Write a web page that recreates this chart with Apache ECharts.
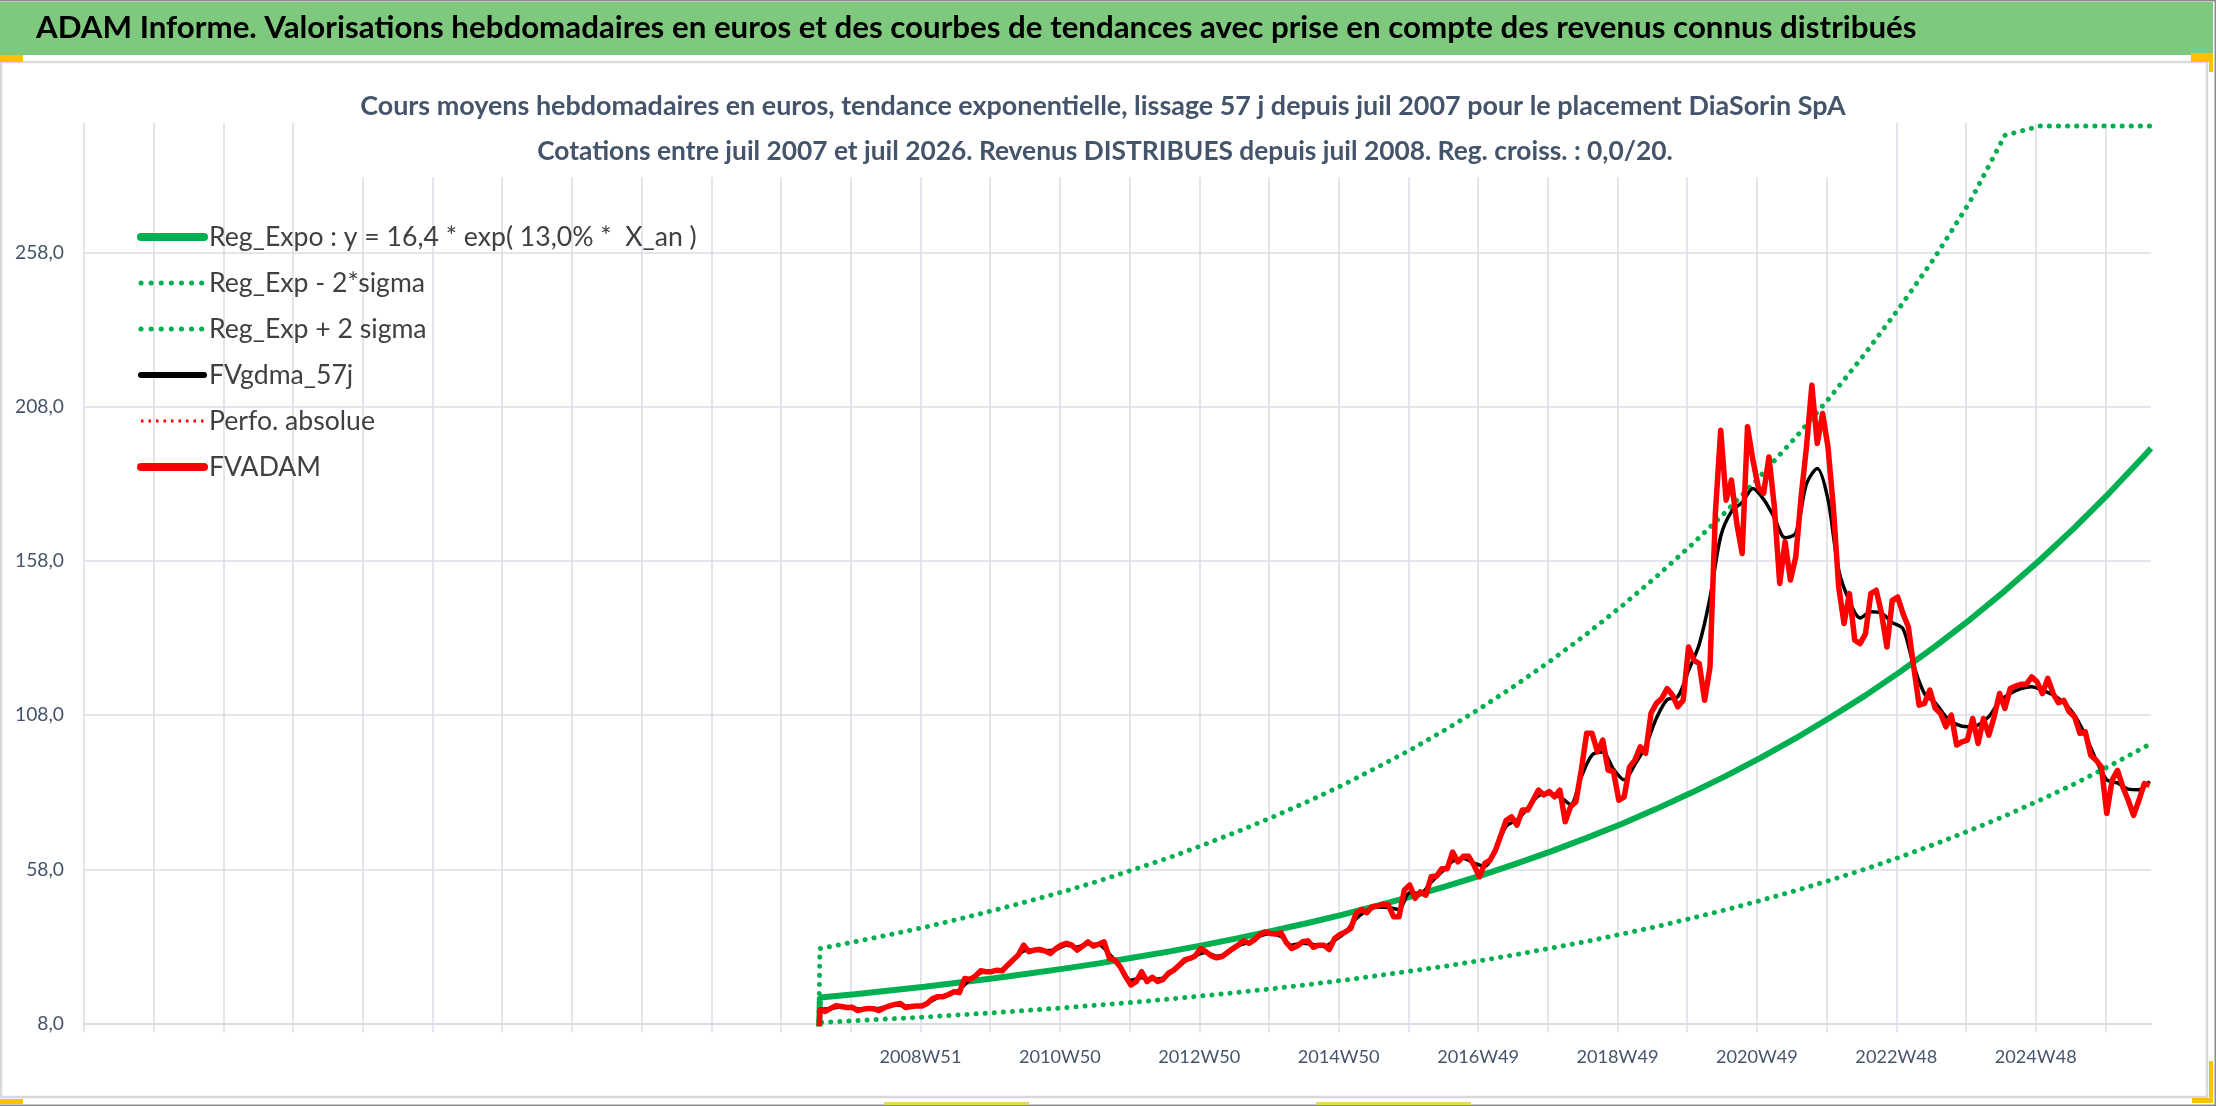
<!DOCTYPE html>
<html>
<head>
<meta charset="utf-8">
<title>ADAM Informe - DiaSorin SpA</title>
<script src="https://cdn.jsdelivr.net/npm/echarts@6.0.0/dist/echarts.min.js"></script>
<style>
html, body { margin: 0; padding: 0; background: #fff; }
#chart { width: 2216px; height: 1106px; }
</style>
</head>
<body>
<div id="chart"></div>
<script>
// weekly categories (ISO weeks). The sheet has empty weeks before the first quote.
let firstQuoteMonday = Date.UTC(2007, 6, 9);   // 2007W28
let blankWeeksBefore = 549;
let weekCount = 1543;
let tickLabels = ['2008W51', '2010W50', '2012W50', '2014W50', '2016W49', '2018W49', '2020W49', '2022W48', '2024W48'];

// FVADAM, one value every 4 weeks from 2007W28
let adamStep = 4;
let fvadam = [
    12.4, 11.9, 12.9, 13.8, 13.5, 13.2, 13.3, 12.2, 12.6, 12.9,
    12.8, 12.2, 13.1, 13.7, 14.2, 14.5, 13.2, 13.5, 13.7, 13.7,
    14.5, 16.1, 16.7, 16.7, 17.4, 18.3, 18.0, 22.6, 22.3, 23.4,
    25.1, 24.8, 24.8, 25.3, 25.1, 26.9, 28.6, 30.2, 33.4, 31.3,
    31.8, 32.0, 31.5, 30.7, 32.3, 33.4, 34.0, 33.4, 31.8, 33.1,
    34.5, 33.1, 33.7, 34.5, 29.1, 28.6, 26.4, 23.2, 20.5, 21.6,
    24.8, 21.6, 23.0, 21.6, 22.3, 24.3, 25.3, 26.9, 28.6, 29.1,
    29.9, 32.3, 31.3, 29.9, 29.3, 29.7, 31.0, 32.3, 33.4, 34.8,
    34.0, 35.1, 36.7, 37.7, 37.2, 37.0, 37.4, 34.2, 32.3, 33.1,
    34.5, 34.8, 32.7, 33.4, 33.4, 32.0, 35.6, 36.9, 37.7, 38.8,
    43.7, 45.0, 43.9, 45.9, 46.1, 46.7, 46.4, 42.6, 42.6, 51.3,
    52.9, 48.6, 50.7, 49.6, 55.6, 55.8, 58.2, 58.2, 63.6, 60.4,
    62.2, 62.2, 59.3, 55.6, 59.9, 61.0, 64.2, 69.1, 73.9, 75.0,
    72.3, 77.2, 77.2, 80.4, 83.7, 82.1, 83.2, 81.5, 83.7, 73.4,
    78.3, 79.9, 90.2, 102.1, 102.1, 96.1, 99.9, 90.2, 89.7, 80.4,
    81.5, 91.2, 93.4, 97.7, 95.6, 108.6, 111.8, 113.4, 116.6, 114.5,
    110.7, 112.8, 130.1, 125.8, 124.7, 112.8, 123.6, 173.3, 200.4, 177.7,
    184.2, 170.1, 160.4, 201.5, 190.7, 182.0, 179.9, 191.7, 175.6, 150.7,
    164.2, 151.8, 159.3, 178.8, 195.0, 215.0, 196.1, 205.8, 195.0, 175.6,
    149.6, 137.7, 147.4, 132.3, 131.2, 134.4, 147.4, 148.5, 140.9, 130.1,
    145.2, 146.3, 140.9, 136.6, 123.6, 111.2, 111.8, 116.1, 110.2, 108.5,
    104.2, 108.0, 98.3, 99.3, 99.9, 106.9, 98.8, 106.9, 101.5, 107.5,
    115.0, 110.2, 116.6, 117.4, 118.0, 118.0, 120.4, 118.8, 115.0, 119.9,
    115.0, 112.0, 112.8, 109.1, 107.5, 102.1, 102.6, 95.0, 93.4, 91.2,
    76.1, 86.9, 90.1, 84.7, 80.4, 75.5, 80.4, 85.8, 85.3
];

// FVgdma_57j, one value every 8 weeks
let gdmaStep = 8;
let fvgdma = [
    12.6, 12.8, 13.4, 13.0, 12.6, 12.7, 13.2, 14.0, 13.7, 13.6,
    14.6, 16.4, 17.4, 19.0, 22.2, 24.4, 24.9, 25.5, 28.4, 31.5,
    31.8, 31.6, 32.0, 33.4, 32.8, 33.8, 33.6, 30.5, 26.5, 22.0,
    22.8, 22.4, 22.7, 25.2, 28.0, 30.0, 31.0, 29.8, 30.8, 33.2,
    34.4, 36.3, 37.2, 36.2, 33.4, 34.0, 33.6, 33.0, 35.0, 37.6,
    42.0, 44.6, 45.8, 45.6, 45.0, 50.4, 50.2, 53.8, 57.2, 60.6,
    61.6, 60.0, 59.0, 64.5, 72.0, 74.0, 77.8, 81.8, 82.5, 81.5,
    79.0, 88.0, 95.0, 96.0, 90.5, 87.0, 92.0, 98.0, 107.0, 113.0,
    114.0, 122.5, 131.0, 146.0, 166.0, 174.0, 177.0, 181.5, 178.0, 172.0,
    165.5, 167.0, 183.0, 188.0, 178.0, 155.0, 145.0, 139.5, 141.5, 141.0,
    138.0, 136.0, 124.0, 115.0, 112.0, 107.5, 105.0, 104.2, 104.8, 107.5,
    112.5, 115.0, 116.6, 117.2, 116.0, 114.5, 112.0, 108.0, 101.5, 93.5,
    87.0, 86.0, 84.0, 83.8, 86.5
];

// trend curves, one value every 26 weeks, last one at the last week
let trendStep = 26;
let regExpo = [
    16.4, 17.5, 18.7, 19.9, 21.3, 22.7, 24.2, 25.8, 27.5, 29.4,
    31.3, 33.4, 35.7, 38.1, 40.6, 43.3, 46.2, 49.3, 52.6, 56.1,
    59.9, 63.9, 68.2, 72.7, 77.6, 82.8, 88.3, 94.2, 100.5, 107.3,
    114.4, 122.1, 130.3, 139.0, 148.3, 158.2, 168.8, 180.1, 192.1, 194.5
];
let regMinus = [
    8.3, 8.9, 9.5, 10.1, 10.8, 11.5, 12.3, 13.1, 14.0, 14.9,
    15.9, 17.0, 18.1, 19.3, 20.6, 22.0, 23.5, 25.1, 26.7, 28.5,
    30.4, 32.5, 34.6, 37.0, 39.4, 42.1, 44.9, 47.9, 51.1, 54.5,
    58.1, 62.0, 66.2, 70.6, 75.3, 80.4, 85.7, 91.5, 97.6, 98.8
];
let regPlus = [
    32.3, 34.5, 36.8, 39.2, 41.9, 44.7, 47.7, 50.8, 54.2, 57.9,
    61.7, 65.9, 70.3, 75.0, 80.0, 85.3, 91.1, 97.1, 103.6, 110.6,
    118.0, 125.9, 134.3, 143.3, 152.9, 163.1, 174.0, 185.7, 198.1, 211.3,
    225.4, 240.5, 256.6, 274.5, 296.0, 299, 299, 299, 299, 299
];

let titleText = 'ADAM Informe. Valorisations hebdomadaires en euros et des courbes de tendances avec prise en compte des revenus connus distribués';
let subLine1 = 'Cours moyens hebdomadaires en euros, tendance exponentielle, lissage 57 j depuis juil 2007 pour le placement DiaSorin SpA';
let subLine2 = 'Cotations entre juil 2007 et juil 2026. Revenus DISTRIBUES depuis juil 2008. Reg. croiss. : 0,0/20.';
let names = ['Reg_Expo : y = 16,4 * exp( 13,0% *  X_an )', 'Reg_Exp - 2*sigma', 'Reg_Exp + 2 sigma', 'FVgdma_57j', 'Perfo. absolue', 'FVADAM'];

const FONT = 'Lato, "Noto Sans", sans-serif';
const GRID = '#d9dee6';
const SLATE = '#44546a';

// font size that gives the text the width it has in the picture
const ctx = document.createElement('canvas').getContext('2d');
function fitSize(text, weight, width) {
    ctx.font = weight + ' 100px ' + FONT;
    return 100 * width / ctx.measureText(text).width;
}

function isoWeek(ms) {
    let t = new Date(ms);
    let day = t.getUTCDay() || 7;
    t.setUTCDate(t.getUTCDate() + 4 - day);
    let yearStart = Date.UTC(t.getUTCFullYear(), 0, 1);
    let week = Math.ceil(((t - yearStart) / 86400000 + 1) / 7);
    return t.getUTCFullYear() + 'W' + String(week).padStart(2, '0');
}

let categories = [];
for (let i = 0; i < weekCount; i++) {
    categories.push(isoWeek(firstQuoteMonday + (i - blankWeeksBefore) * 7 * 86400000));
}

function toPoints(values, step) {
    // the empty week before the first quote is plotted as 0 in the sheet
    let pts = [[blankWeeksBefore - 1, 0]];
    values.forEach(function (v, j) {
        pts.push([Math.min(blankWeeksBefore + j * step, weekCount - 1), v]);
    });
    return pts;
}

let yearTick = function (index) { return index % 52 === 0; };

let titleSize = fitSize(titleText, 'bold', 1881);
let sub1Size = fitSize(subLine1, 'bold', 1486);
let sub2Size = fitSize(subLine2, 'bold', 1136);
let legendSize = fitSize(names[0], 'normal', 488);
let xLabelSize = fitSize('2008W51', 'normal', 82);
let yLabelSize = fitSize('258,0', 'normal', 49);

let green = '#00b050';
let dotted = [0.1, 9];

let option = {
    animation: false,
    backgroundColor: '#ffffff',
    textStyle: { fontFamily: FONT },
    grid: { left: 84, top: 123, width: 2067, height: 900.5, containLabel: false, outerBoundsMode: 'none' },
    xAxis: {
        type: 'category',
        data: categories,
        boundaryGap: false,
        axisLine: { lineStyle: { color: GRID, width: 2 } },
        axisTick: { show: true, interval: yearTick, length: 9, lineStyle: { color: GRID, width: 1.5 } },
        axisLabel: {
            interval: function (index, name) { return tickLabels.indexOf(name) >= 0; },
            color: SLATE, fontSize: xLabelSize, fontFamily: FONT, margin: 25
        },
        splitLine: { show: true, interval: yearTick, lineStyle: { color: GRID, width: 1.5 } }
    },
    yAxis: {
        type: 'value',
        min: 8, max: 300, interval: 50,
        axisLine: { show: false },
        axisTick: { show: false },
        axisLabel: {
            formatter: function (v) { return v.toFixed(1).replace('.', ','); },
            color: SLATE, fontSize: yLabelSize, fontFamily: FONT, margin: 20,
            showMaxLabel: false
        },
        splitLine: { lineStyle: { color: GRID, width: 1.5 }, showMaxLine: false }
    },
    legend: {
        orient: 'vertical',
        left: 137, top: 222, padding: 0,
        itemWidth: 63, itemHeight: 10, itemGap: 16,
        selectedMode: false,
        itemStyle: { opacity: 0 },
        textStyle: { color: '#404040', fontSize: legendSize, lineHeight: 30, fontFamily: FONT },
        data: [
            { name: names[0], lineStyle: { color: green, width: 8, cap: 'round' } },
            { name: names[1], lineStyle: { color: green, width: 5, type: [0.1, 10], cap: 'round' } },
            { name: names[2], lineStyle: { color: green, width: 5, type: [0.1, 10], cap: 'round' } },
            { name: names[3], lineStyle: { color: '#000000', width: 6, cap: 'round' } },
            { name: names[4], lineStyle: { color: '#ff0000', width: 3, type: [2.5, 5] } },
            { name: names[5], lineStyle: { color: '#ff0000', width: 8, cap: 'round' } }
        ]
    },
    graphic: [
        { type: 'rect', silent: true, shape: { x: 0, y: 0, width: 2216, height: 1.5 }, style: { fill: '#8c8c8c' } },
        { type: 'rect', silent: true, shape: { x: 0, y: 2, width: 2213, height: 53 }, style: { fill: '#7fc97f' } },
        { type: 'rect', silent: true, shape: { x: 1, y: 62, width: 2206, height: 1035 }, style: { fill: 'none', stroke: '#d9d9d9', lineWidth: 2.5 } },
        { type: 'rect', silent: true, shape: { x: 2214.5, y: 0, width: 1.5, height: 1106 }, style: { fill: '#8c8c8c' } },
        { type: 'rect', silent: true, shape: { x: 0, y: 1104.5, width: 2216, height: 1.5 }, style: { fill: '#8c8c8c' } },
        { type: 'rect', silent: true, shape: { x: 0, y: 55, width: 23, height: 7 }, style: { fill: '#ffc000' } },
        { type: 'rect', silent: true, shape: { x: 2191, y: 53, width: 22, height: 9 }, style: { fill: '#ffc000' } },
        { type: 'rect', silent: true, shape: { x: 2209, y: 62, width: 4, height: 10 }, style: { fill: '#ffc000' } },
        { type: 'rect', silent: true, shape: { x: 0, y: 1099, width: 23, height: 5 }, style: { fill: '#ffc000' } },
        { type: 'rect', silent: true, shape: { x: 2209, y: 1061, width: 4, height: 42 }, style: { fill: '#ffc000' } },
        { type: 'rect', silent: true, shape: { x: 2192, y: 1098, width: 21, height: 5 }, style: { fill: '#ffc000' } },
        { type: 'rect', silent: true, shape: { x: 884, y: 1102, width: 145, height: 3 }, style: { fill: '#e6dc50' } },
        { type: 'rect', silent: true, shape: { x: 1316, y: 1102, width: 155, height: 3 }, style: { fill: '#e6dc50' } },
        // white box of the chart title, over the gridlines
        { type: 'rect', silent: true, z: 1, shape: { x: 345, y: 120, width: 1512, height: 57 }, style: { fill: '#ffffff' } },
        { type: 'text', silent: true, z: 10, x: 36, y: 28,
          style: { text: titleText, fill: '#000000', font: 'bold ' + titleSize + 'px ' + FONT, align: 'left', verticalAlign: 'middle' } },
        { type: 'text', silent: true, z: 10, x: 1103, y: 106,
          style: { text: subLine1, fill: SLATE, font: 'bold ' + sub1Size + 'px ' + FONT, align: 'center', verticalAlign: 'middle' } },
        { type: 'text', silent: true, z: 10, x: 1105, y: 152,
          style: { text: subLine2, fill: SLATE, font: 'bold ' + sub2Size + 'px ' + FONT, align: 'center', verticalAlign: 'middle' } }
    ],
    series: [
        { name: names[0], type: 'line', symbol: 'none', data: toPoints(regExpo, trendStep),
          itemStyle: { color: green }, lineStyle: { color: green, width: 6 } },
        { name: names[1], type: 'line', symbol: 'none', data: toPoints(regMinus, trendStep),
          itemStyle: { color: green }, lineStyle: { color: green, width: 5, type: dotted, cap: 'round' } },
        { name: names[2], type: 'line', symbol: 'none', data: toPoints(regPlus, trendStep),
          itemStyle: { color: green }, lineStyle: { color: green, width: 5, type: dotted, cap: 'round' } },
        { name: names[3], type: 'line', symbol: 'none', smooth: 0.3, data: toPoints(fvgdma, gdmaStep),
          itemStyle: { color: '#000000' }, lineStyle: { color: '#000000', width: 3.5, join: 'round' } },
        { name: names[4], type: 'line', symbol: 'none', data: [],
          itemStyle: { color: '#ff0000' }, lineStyle: { color: '#ff0000', width: 2.5, type: [2.5, 5] } },
        { name: names[5], type: 'line', symbol: 'none', data: toPoints(fvadam, adamStep),
          itemStyle: { color: '#ff0000' }, lineStyle: { color: '#ff0000', width: 5.5, join: 'round' } }
    ]
};

let myChart = echarts.init(document.getElementById('chart'));
myChart.setOption(option);
</script>
</body>
</html>
